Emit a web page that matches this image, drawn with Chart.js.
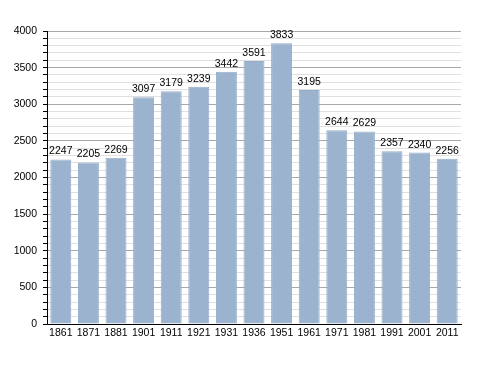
<!DOCTYPE html>
<html><head><meta charset="utf-8">
<script src="https://cdn.jsdelivr.net/npm/chart.js@4/dist/chart.umd.min.js"></script>
<style>html,body{margin:0;padding:0;background:#fff;}canvas{display:block;}</style>
</head><body>
<canvas id="c" width="488" height="373"></canvas>
<script>
const years = ["1861","1871","1881","1901","1911","1921","1931","1936","1951","1961","1971","1981","1991","2001","2011"];
const population = [2247,2205,2269,3097,3179,3239,3442,3591,3833,3195,2644,2629,2357,2340,2256];
const yMin = 0, yMax = 4000, yMinorStep = 100, yMajorStep = 500;

const FONT = {family: "'Liberation Sans', Arial, sans-serif", size: 10.5};

const valueLabels = {
  id: 'valueLabels',
  afterDatasetsDraw(chart) {
    const ctx = chart.ctx;
    const meta = chart.getDatasetMeta(0);
    ctx.save();
    ctx.font = FONT.size + "px " + FONT.family;
    ctx.fillStyle = '#000';
    ctx.textAlign = 'center';
    ctx.textBaseline = 'alphabetic';
    meta.data.forEach((bar, i) => {
      ctx.fillText(String(chart.data.datasets[0].data[i]), bar.x, bar.y - 5);
    });
    ctx.restore();
  }
};

new Chart(document.getElementById('c'), {
  type: 'bar',
  data: {
    labels: years,
    datasets: [{
      data: population,
      backgroundColor: '#9bb3ce',
      borderColor: '#94adc9',
      borderWidth: 1,
      barPercentage: 0.76,
      categoryPercentage: 1
    }]
  },
  options: {
    responsive: false,
    animation: false,
    devicePixelRatio: 1,
    layout: {padding: {top: 31, right: 27, bottom: 0, left: 0}},
    plugins: {legend: {display: false}, tooltip: {enabled: false}},
    scales: {
      x: {
        offset: true,
        grid: {display: false, drawTicks: false},
        border: {display: true, color: '#000', width: 1},
        ticks: {color: '#000', font: FONT, padding: 3, maxRotation: 0, autoSkip: false},
        afterFit(s) { s.height = 49; }
      },
      y: {
        min: yMin, max: yMax,
        grid: {
          color: c => (c.tick && c.tick.value % yMajorStep === 0) ? '#a8a8a8' : '#e0e0e0',
          tickColor: '#000',
          tickLength: 4
        },
        border: {display: true, color: '#000', width: 1},
        ticks: {
          stepSize: yMinorStep,
          autoSkip: false,
          color: '#000',
          font: FONT,
          padding: 6,
          callback: v => (v % yMajorStep === 0) ? String(v) : ''
        },
        afterFit(s) { s.width = 47; }
      }
    }
  },
  plugins: [valueLabels]
});
</script>
</body></html>
